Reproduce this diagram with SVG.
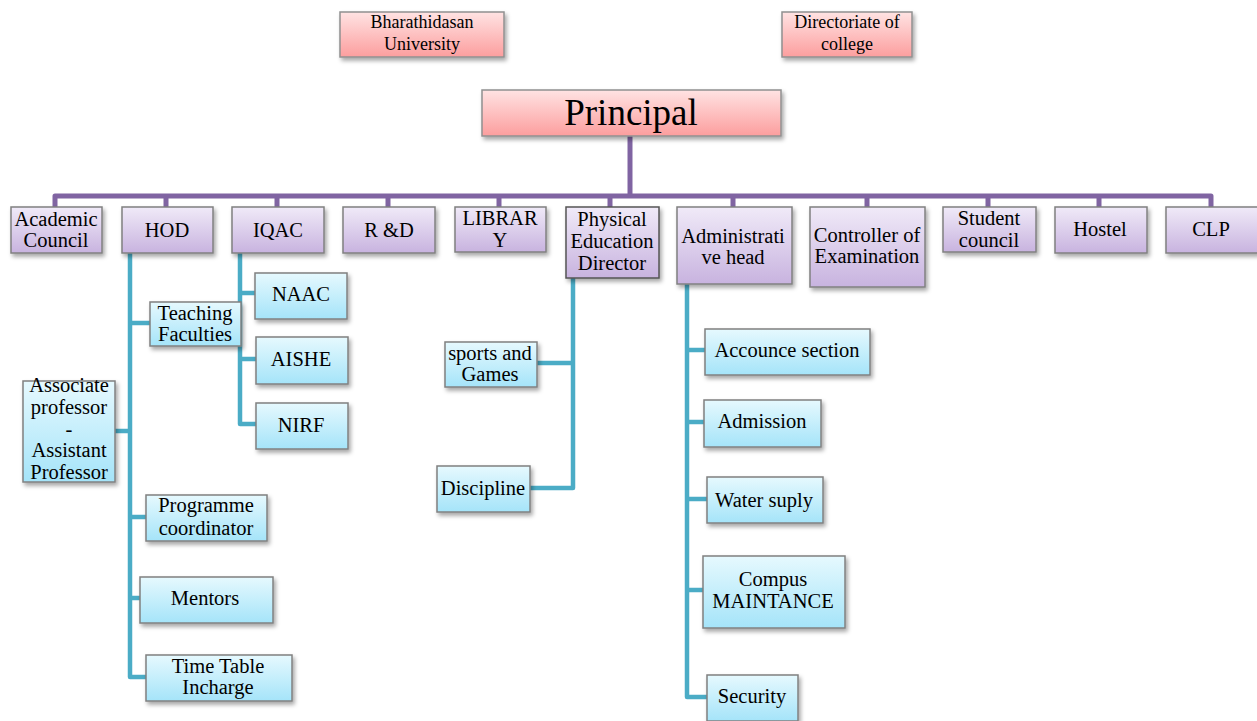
<svg xmlns="http://www.w3.org/2000/svg" width="1257" height="721" viewBox="0 0 1257 721" font-family="Liberation Serif, Times New Roman, serif">
<defs>
<linearGradient id="gP" x1="0" y1="0" x2="0" y2="1"><stop offset="0" stop-color="#f0eaf8"/><stop offset="1" stop-color="#c8b3df"/></linearGradient>
<linearGradient id="gB" x1="0" y1="0" x2="0" y2="1"><stop offset="0" stop-color="#e6f9fe"/><stop offset="1" stop-color="#a5e4f9"/></linearGradient>
<linearGradient id="gR" x1="0" y1="0" x2="0" y2="1"><stop offset="0" stop-color="#ffe3e3"/><stop offset="1" stop-color="#fc9e9e"/></linearGradient>
<filter id="sh" x="-10%" y="-10%" width="125%" height="135%"><feDropShadow dx="2" dy="3" stdDeviation="2" flood-color="#000" flood-opacity="0.35"/></filter>
</defs>
<style>
.p{fill:url(#gP);stroke:#808080;stroke-width:1.5;filter:url(#sh)}
.b{fill:url(#gB);stroke:#808080;stroke-width:1.5;filter:url(#sh)}
.r{fill:url(#gR);stroke:#909090;stroke-width:1.5;filter:url(#sh)}
.dk{stroke:#555}
text{font-size:20.5px;fill:#000;text-anchor:middle}
.s{font-size:18px}
.big{font-size:37px}
.pl{fill:none;stroke:#8064a2;stroke-width:5;stroke-linejoin:round;stroke-linecap:butt}
.tl{fill:none;stroke:#4bacc6;stroke-width:4.5;stroke-linejoin:round}
</style>
<rect width="1257" height="721" fill="#fff"/>
<g id="connectors">
<path class="pl" d="M630,136 V196"/>
<path class="pl" d="M55,207 V196 H1211 V207"/>
<path class="pl" d="M166,196 V207 M277,196 V207 M388,196 V207 M499,196 V207 M610,196 V207 M733,196 V207 M867,196 V207 M988,196 V207 M1099,196 V207"/>
<path class="tl" d="M130,253 V677 H146"/>
<path class="tl" d="M130,323 H150 M115,431 H130 M130,517 H146 M130,598 H140"/>
<path class="tl" d="M240,253 V424 H256"/>
<path class="tl" d="M240,293 H255 M240,359 H256"/>
<path class="tl" d="M573,278 V488 H530"/>
<path class="tl" d="M537,363 H573"/>
<path class="tl" d="M687,284 V697 H707"/>
<path class="tl" d="M687,350 H705 M687,422 H704 M687,499 H707 M687,590 H703"/>
</g>
<g id="bharathidasan"><rect class="r" x="340" y="12" width="164" height="45"/><text class="s" x="422" y="28">Bharathidasan</text><text class="s" x="422" y="50">University</text></g>
<g id="directoriate"><rect class="r" x="782" y="12" width="130" height="45"/><text class="s" x="847" y="28">Directoriate of</text><text class="s" x="847" y="50">college</text></g>
<g id="principal"><rect class="r" x="482" y="90" width="299" height="46"/><text class="big" x="631" y="125">Principal</text></g>
<g id="academic"><rect class="p" x="11" y="207" width="91" height="46"/><text x="56" y="226">Academic</text><text x="56" y="247">Council</text></g>
<g id="hod"><rect class="p" x="122" y="207" width="91" height="46"/><text x="167" y="237">HOD</text></g>
<g id="iqac"><rect class="p" x="232" y="207" width="92" height="46"/><text x="278" y="237">IQAC</text></g>
<g id="rd"><rect class="p" x="343" y="207" width="92" height="46"/><text x="389" y="237">R &amp;D</text></g>
<g id="library"><rect class="p" x="455" y="207" width="91" height="45"/><text x="500" y="225">LIBRAR</text><text x="500" y="247">Y</text></g>
<g id="ped"><rect class="p dk" x="566" y="207" width="93" height="71"/><text x="612" y="226">Physical</text><text x="612" y="248">Education</text><text x="612" y="270">Director</text></g>
<g id="admin"><rect class="p" x="677" y="207" width="115" height="77"/><text x="733" y="243">Administrati</text><text x="733" y="264">ve head</text></g>
<g id="controller"><rect class="p" x="810" y="207" width="115" height="80"/><text x="867" y="242">Controller of</text><text x="867" y="263">Examination</text></g>
<g id="student"><rect class="p" x="943" y="207" width="93" height="45"/><text x="989" y="225">Student</text><text x="989" y="247">council</text></g>
<g id="hostel"><rect class="p" x="1055" y="207" width="92" height="46"/><text x="1100" y="236">Hostel</text></g>
<g id="clp"><rect class="p" x="1166" y="207" width="92" height="46"/><text x="1211" y="236">CLP</text></g>
<g id="teaching"><rect class="b" x="150" y="302" width="91" height="44"/><text x="195" y="320">Teaching</text><text x="195" y="341">Faculties</text></g>
<g id="associate"><rect class="b" x="23" y="381" width="92" height="101"/><text x="69" y="392">Associate</text><text x="69" y="414">professor</text><text x="69" y="436">-</text><text x="69" y="457">Assistant</text><text x="69" y="479">Professor</text></g>
<g id="programme"><rect class="b" x="146" y="495" width="121" height="46"/><text x="206" y="512">Programme</text><text x="206" y="535">coordinator</text></g>
<g id="mentors"><rect class="b" x="140" y="577" width="133" height="46"/><text x="205" y="605">Mentors</text></g>
<g id="timetable"><rect class="b" x="146" y="655" width="146" height="46"/><text x="218" y="673">Time Table</text><text x="218" y="694">Incharge</text></g>
<g id="naac"><rect class="b" x="255" y="273" width="92" height="46"/><text x="301" y="301">NAAC</text></g>
<g id="aishe"><rect class="b" x="256" y="337" width="92" height="47"/><text x="301" y="366">AISHE</text></g>
<g id="nirf"><rect class="b" x="256" y="403" width="92" height="46"/><text x="301" y="432">NIRF</text></g>
<g id="sports"><rect class="b" x="445" y="342" width="92" height="45"/><text x="490" y="360">sports and</text><text x="490" y="381">Games</text></g>
<g id="discipline"><rect class="b" x="437" y="466" width="93" height="46"/><text x="483" y="495">Discipline</text></g>
<g id="accounce"><rect class="b" x="705" y="329" width="165" height="46"/><text x="787" y="357">Accounce section</text></g>
<g id="admission"><rect class="b" x="704" y="400" width="117" height="47"/><text x="762" y="428">Admission</text></g>
<g id="water"><rect class="b" x="707" y="477" width="116" height="46"/><text x="764" y="507">Water suply</text></g>
<g id="compus"><rect class="b" x="703" y="556" width="142" height="72"/><text x="773" y="586">Compus</text><text x="773" y="608">MAINTANCE</text></g>
<g id="security"><rect class="b" x="707" y="675" width="91" height="46"/><text x="752" y="703">Security</text></g>
</svg>
